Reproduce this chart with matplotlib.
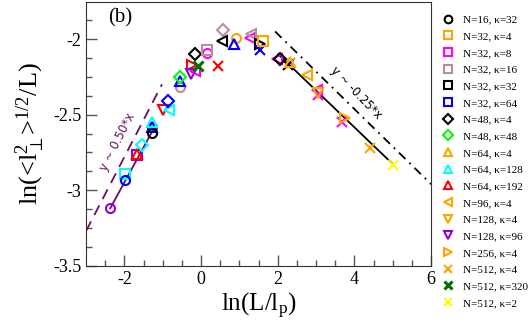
import matplotlib
matplotlib.use("Agg")
import matplotlib.pyplot as plt

plt.rcParams['font.family'] = ['Liberation Serif', 'DejaVu Serif']
plt.rcParams['mathtext.fontset'] = 'custom'
plt.rcParams['mathtext.rm'] = 'Liberation Serif'
plt.rcParams['mathtext.it'] = 'Liberation Serif:italic'

# legend series (one point each)
labels = ['N=16, κ=32', 'N=32, κ=4', 'N=32, κ=8', 'N=32, κ=16', 'N=32, κ=32',
          'N=32, κ=64', 'N=48, κ=4', 'N=48, κ=48', 'N=64, κ=4', 'N=64, κ=128',
          'N=64, κ=192', 'N=96, κ=4', 'N=128, κ=4', 'N=128, κ=96', 'N=256, κ=4',
          'N=512, κ=4', 'N=512, κ=320', 'N=512, κ=2']
ser_x = [[-1.28], [1.62], [], [0.16], [], [], [2.05], [-0.55], [2.32], [-1.28],
         [-1.67], [2.77], [3.05], [-0.26], [3.76], [4.41], [-0.08], [5.01]]
ser_y = [[-2.62], [-2.01], [], [-2.07], [], [], [-2.13], [-2.25], [-2.15], [-2.55],
         [-2.76], [-2.24], [-2.36], [-2.23], [-2.52], [-2.72], [-2.18], [-2.83]]

# additional unlabeled points
extra_x = [-2.37, -1.98, -1.98, -1.67, -1.54, -1.28, -1.28, -0.99, -0.83, -0.86,
           -0.55, -0.55, -0.24, -0.16, -0.16, 0.16, 0.44, 0.57, 0.55, 0.91,
           0.86, 1.28, 1.30, 1.54, 1.54, 1.98, 2.32, 2.27, 3.03, 3.05, 3.68]
extra_y = [-3.12, -2.89, -2.93, -2.77, -2.70, -2.58, -2.58, -2.47, -2.47, -2.41,
           -2.32, -2.28, -2.17, -2.21, -2.10, -2.09, -2.18, -1.94, -2.01, -1.99,
           -2.03, -1.99, -1.97, -2.03, -2.07, -2.13, -2.16, -2.17, -2.34, -2.37, -2.55]

# fit lines
fitL_x, fitL_y = [-2.37, -1.25], [-3.12, -2.60]
guideL_x, guideL_y = [-3.0, -1.02], [-3.27, -2.30]
fitR_x, fitR_y = [2.01, 5.01], [-2.10, -2.83]
guideR_x, guideR_y = [1.93, 6.0], [-1.95, -2.96]

ser_col = ['black', '#ffa500', '#ff00ff', '#bc8f8f', 'black', '#0000ff', 'black',
           '#00ff00', '#ffa500', '#00ffff', '#ff0000', '#ffa500', '#ffa500',
           '#9400d3', '#ffa500', '#ffa500', '#007000', '#ffff00']
ser_mk = ['o', 's', 's', 's', 's', 's', 'D', 'D', '^', '^', '^', '<', 'v', 'v',
          '>', 'x', 'x', 'x']
extra_col = ['#9400d3', '#00ffff', '#0000ff', '#9400d3', '#00ffff', '#9400d3',
             '#0000ff', '#ff0000', '#00ffff', '#0000ff', '#bc8f8f', '#0000ff',
             '#ff0000', '#ff00ff', 'black', '#ff00ff', '#ff0000', '#bc8f8f',
             'black', '#ffa500', '#0000ff', '#ff00ff', '#bc8f8f', 'black',
             '#0000ff', '#ff00ff', '#bc8f8f', 'black', '#ff00ff', '#ff00ff', '#ff00ff']
extra_mk = ['o', 's', 'o', 's', 'D', 'o', '^', 'v', '<', 'D', 'o', '^', '>', '<',
            'D', 'o', 'x', 'D', '<', 'o', '^', '<', '<', '>', 'x', '<', 'x', 'x',
            '<', 'x', 'x']

purple = '#6b0f5e'

fig = plt.figure(figsize=(5.31, 3.27), dpi=100)
ax = fig.add_axes([0.162, 0.187, 0.650, 0.807])

ax.plot(guideL_x, guideL_y, color=purple, lw=1.3, dashes=(6, 4))
ax.plot(fitL_x, fitL_y, color=purple, lw=1.3)
ax.plot(fitR_x, fitR_y, color='black', lw=1.3)
ax.plot(guideR_x, guideR_y, color='black', lw=1.3, dashes=(5, 3, 1, 3))

for x, y, c, m in zip(extra_x, extra_y, extra_col, extra_mk):
    ax.plot([x], [y], ls='none', marker=m, ms=6.5, mfc='none', mec=c, mew=1.5)

for x, y, c, m, lab in zip(ser_x, ser_y, ser_col, ser_mk, labels):
    mew = 2.2 if lab == 'N=512, κ=320' else 1.5
    ax.plot(x, y, ls='none', marker=m, ms=6.5, mfc='none', mec=c, mew=mew, label=lab)

ax.text(-2.19, -2.68, 'y ~ 0.50*x', color=purple, rotation=63, fontsize=8.5,
        family='DejaVu Sans', ha='center', va='center')
ax.text(4.04, -2.355, 'y ~ -0.25*x', color='black', rotation=-46, fontsize=8.5,
        family='DejaVu Sans', ha='center', va='center')
ax.text(-2.11, -1.862, '(b)', fontsize=15, ha='center', va='center')

ax.set_xlim(-3, 6)
ax.set_ylim(-3.5, -1.755)
ax.set_xticks([-2, 0, 2, 4, 6])
ax.set_xticks([-2.5, -1.5, -1, -0.5, 0.5, 1, 1.5, 2.5, 3, 3.5, 4.5, 5, 5.5], minor=True)
ax.set_yticks([-3.5, -3, -2.5, -2])
ax.set_yticks([-3.375, -3.25, -3.125, -2.875, -2.75, -2.625, -2.375, -2.25, -2.125,
               -1.875], minor=True)
ax.set_xticklabels(['-2', '0', '2', '4', '6'])
ax.set_yticklabels(['-3.5', '-3', '-2.5', '-2'])
ax.tick_params(which='both', direction='in', top=False, right=False,
               color='#555555', labelsize=13)
ax.tick_params(which='major', length=8, width=1)
ax.tick_params(which='minor', length=4, width=1)
for s in ax.spines.values():
    s.set_color('#333333')

ax.set_xlabel('ln(L/l$_\\mathrm{p}$)', fontsize=18, labelpad=2)
ax.set_ylabel('ln(<l$_\\perp^{2}$>$^{1/2}$/L)', fontsize=19, labelpad=4)

ax.legend(loc='upper left', bbox_to_anchor=(0.833, 0.955), bbox_transform=fig.transFigure,
          frameon=False, fontsize=8, handlelength=1.0, handletextpad=0.9,
          labelspacing=0.62, borderpad=0, borderaxespad=0, markerscale=0.85)

fig.savefig('out.png', dpi=100)
